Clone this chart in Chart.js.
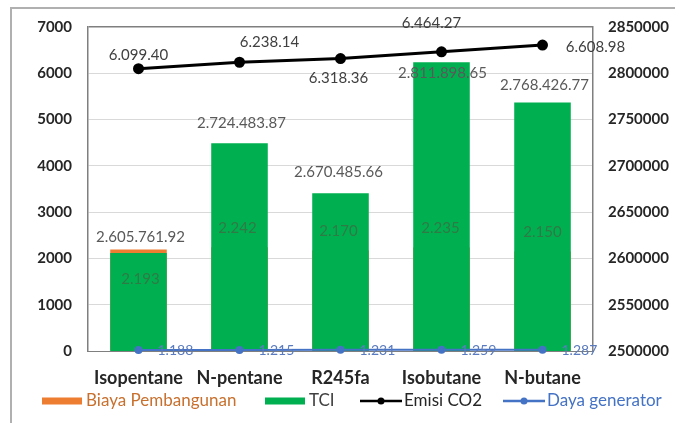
<!DOCTYPE html>
<html>
<head>
<meta charset="utf-8">
<script src="https://cdn.jsdelivr.net/npm/chart.js@4.4.0/dist/chart.umd.min.js"></script>
<style>
  html, body { margin: 0; padding: 0; background: #fff; overflow: hidden; }
  #wrap { position: relative; width: 675px; height: 423px; }
  #frame { position: absolute; left: 10px; top: 7px; width: 700px; height: 450px;
           border: 2px solid #b0b0b0; box-sizing: border-box; }
  canvas { position: absolute; left: 0; top: 0; }
</style>
</head>
<body>
<div id="wrap">
  <div id="frame"></div>
  <canvas id="chart" width="675" height="423"></canvas>
</div>
<script>
// ---------------- DATA ----------------
const categories = ["Isopentane", "N-pentane", "R245fa", "Isobutane", "N-butane"];
const biayaPembangunan = [2193, 2242, 2170, 2235, 2150];
const tci = [2605761.92, 2724483.87, 2670485.66, 2811898.65, 2768426.77];
const emisiCO2 = [6099.40, 6238.14, 6318.36, 6464.27, 6608.98];
const dayaGenerator = [1188, 1215, 1231, 1259, 1287];
const leftTicks = [0, 1000, 2000, 3000, 4000, 5000, 6000, 7000];
const rightTicks = [2500000, 2550000, 2600000, 2650000, 2700000, 2750000, 2800000, 2850000];

// ---------------- HELPERS ----------------
// excel style: dots for thousands, dot for decimals
function fmt(v, dec) {
  const parts = v.toFixed(dec).split(".");
  const intPart = parts[0].replace(/\B(?=(\d{3})+(?!\d))/g, ".");
  return dec > 0 ? intPart + "." + parts[1] : intPart;
}

const FONT = "Lato, 'Open Sans', sans-serif";

// label placement relative to the mark (dx, dy), text centred unless align given
const labelCfg = {
  0: { color: "#2f7a45", size: 15, dec: 0, off: [[2, 30], [-2, -19], [-2, -19], [-1, -19], [0, -19]] },
  1: { color: "#595959", size: 15, dec: 2, off: [[2, -16], [2, -20], [-2, -21], [1, 11], [2, -17]] },
  2: { color: "#404040", size: 15, dec: 2, off: [[0, -14], [30, -20], [-2, 20], [-10, -29], [53, 2]] },
  3: { color: "#5a7bbf", size: 14, dec: 0, align: "left", off: [[19, 1], [19, 1], [19, 1], [19, 1], [19, 1]] }
};

const dataLabels = {
  id: "dataLabels",
  afterDatasetsDraw(chart) {
    const ctx = chart.ctx;
    ctx.save();
    ctx.textBaseline = "middle";
    chart.data.datasets.forEach((ds, di) => {
      const cfg = labelCfg[di];
      const meta = chart.getDatasetMeta(di);
      ctx.font = cfg.size + "px " + FONT;
      ctx.fillStyle = cfg.color;
      ctx.textAlign = cfg.align || "center";
      meta.data.forEach((el, i) => {
        const o = cfg.off[i];
        ctx.fillText(fmt(ds.data[i], cfg.dec), el.x + o[0], el.y + o[1]);
      });
    });
    ctx.restore();
  }
};

// legend drawn by hand so the swatches look like excel
const legendItems = [
  { text: "Biaya Pembangunan", kind: "bar", color: "#ED7D31", textColor: "#C8702E", x: 42 },
  { text: "TCI", kind: "bar", color: "#00B050", textColor: "#404040", x: 265 },
  { text: "Emisi CO2", kind: "line", color: "#000000", textColor: "#262626", x: 360 },
  { text: "Daya generator", kind: "line", color: "#4472C4", textColor: "#4472C4", x: 503 }
];

const customLegend = {
  id: "customLegend",
  afterDraw(chart) {
    const ctx = chart.ctx;
    const y = 401;
    ctx.save();
    ctx.font = "17px " + FONT;
    ctx.textBaseline = "middle";
    ctx.textAlign = "left";
    legendItems.forEach(it => {
      if (it.kind === "bar") {
        ctx.fillStyle = it.color;
        ctx.fillRect(it.x, y - 3.5, 40, 7);
      } else {
        ctx.strokeStyle = it.color;
        ctx.lineWidth = 2.5;
        ctx.beginPath();
        ctx.moveTo(it.x, y);
        ctx.lineTo(it.x + 42, y);
        ctx.stroke();
        ctx.fillStyle = it.color;
        ctx.beginPath();
        ctx.arc(it.x + 21, y, 3.5, 0, Math.PI * 2);
        ctx.fill();
      }
      ctx.fillStyle = it.textColor;
      ctx.fillText(it.text, it.x + 44, y);
    });
    ctx.restore();
  }
};

const plainTick = v => String(v);

// ---------------- CHART ----------------
const ctx = document.getElementById("chart").getContext("2d");
new Chart(ctx, {
  data: {
    labels: categories,
    datasets: [
      {
        type: "bar",
        label: "Biaya Pembangunan",
        data: biayaPembangunan,
        yAxisID: "y",
        backgroundColor: "#ED7D31",
        grouped: false,
        categoryPercentage: 1,
        barPercentage: 0.56,
        order: 3
      },
      {
        type: "bar",
        label: "TCI",
        data: tci,
        yAxisID: "y1",
        backgroundColor: "#00B050",
        grouped: false,
        categoryPercentage: 1,
        barPercentage: 0.56,
        order: 2
      },
      {
        type: "line",
        label: "Emisi CO2",
        data: emisiCO2,
        yAxisID: "y",
        borderColor: "#000000",
        backgroundColor: "#000000",
        borderWidth: 3,
        pointRadius: 4,
        pointBackgroundColor: "#000000",
        tension: 0,
        order: 1
      },
      {
        type: "line",
        label: "Daya generator",
        data: dayaGenerator,
        yAxisID: "y2",
        borderColor: "#4472C4",
        backgroundColor: "#4472C4",
        borderWidth: 2,
        pointRadius: 3,
        pointBackgroundColor: "#4472C4",
        tension: 0,
        clip: false,
        order: 0
      }
    ]
  },
  options: {
    responsive: false,
    animation: false,
    events: [],
    layout: { padding: { top: 27, bottom: 32, left: 0, right: 0 } },
    plugins: { legend: { display: false }, tooltip: { enabled: false } },
    scales: {
      x: {
        grid: { display: false, drawTicks: false },
        border: { display: true, color: "#7f7f7f", width: 1 },
        ticks: { color: "#262626", font: { family: FONT, size: 18, weight: "bold" }, padding: 16 },
        afterFit: s => { s.height = 40; }
      },
      y: {
        position: "left",
        min: leftTicks[0],
        max: leftTicks[leftTicks.length - 1],
        afterBuildTicks: s => { s.ticks = leftTicks.map(v => ({ value: v })); },
        grid: {
          drawTicks: false,
          color: c => (c.tick && c.tick.value === 7000 ? "#7f7f7f" : "#d9d9d9"),
          lineWidth: c => (c.tick && c.tick.value === 7000 ? 1.5 : 1)
        },
        border: { display: true, color: "#7f7f7f", width: 1.5 },
        ticks: { color: "#262626", font: { family: FONT, size: 15, weight: "bold" }, padding: 16, callback: plainTick },
        afterFit: s => { s.width = 88; }
      },
      y1: {
        position: "right",
        min: rightTicks[0],
        max: rightTicks[rightTicks.length - 1],
        afterBuildTicks: s => { s.ticks = rightTicks.map(v => ({ value: v })); },
        grid: { display: false, drawTicks: false },
        border: { display: true, color: "#7f7f7f", width: 1.5 },
        ticks: { color: "#262626", font: { family: FONT, size: 15, weight: "bold" }, padding: 15, callback: plainTick },
        afterFit: s => { s.width = 82; }
      },
      // values under the secondary axis floor sit on the bottom line, like excel does
      y2: {
        display: false,
        min: 0,
        max: rightTicks[rightTicks.length - 1] - rightTicks[0]
      }
    }
  },
  plugins: [dataLabels, customLegend]
});
</script>
</body>
</html>
